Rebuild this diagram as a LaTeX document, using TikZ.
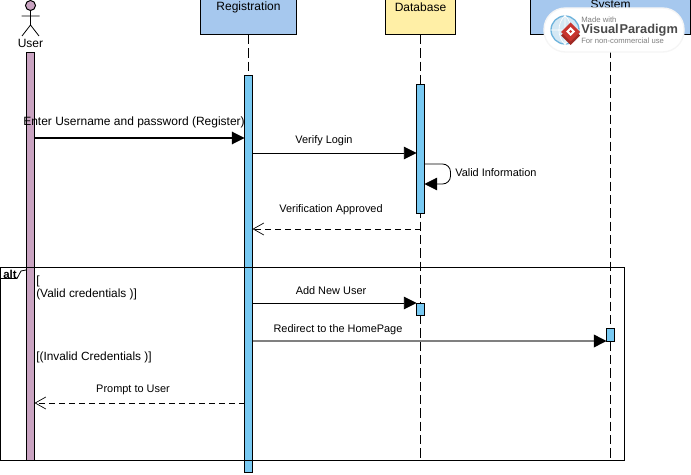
\documentclass[tikz,border=0pt]{standalone}
\usepackage{fontspec}
\setmainfont{Liberation Sans}
\usetikzlibrary{arrows.meta}
\definecolor{actorpink}{HTML}{C9A3C1}
\definecolor{barblue}{HTML}{78C9F2}
\definecolor{headblue}{HTML}{A6C8EE}
\definecolor{headyellow}{HTML}{FFEFA6}
\definecolor{vpblue}{HTML}{6FB4DC}
\definecolor{vpred}{HTML}{C8352F}
\definecolor{vpgrey}{HTML}{4A4A4A}
\begin{document}
\begin{tikzpicture}[x=.75pt,y=-.75pt]
		\tikzset{headbox/.style = {shape=rectangle,draw,line width=.75pt,inner sep=0pt,outer sep=0pt,minimum height=26.25pt}}
		\tikzset{barbox/.style = {shape=rectangle,draw,line width=.75pt,inner sep=0pt,outer sep=0pt,minimum width=6pt}}
		\tikzset{lifeline/.style = {line width=.75pt,dash pattern=on 7pt off 3pt}}
		\tikzset{syncmsg/.style = {line width=.65pt,-{Triangle[length=9.5pt,width=9.5pt,color=black]}}}
		\tikzset{replymsg/.style = {line width=.6pt,dash pattern=on 4.5pt off 3pt,-{Straight Barb[length=8pt,width=9pt,line width=.5pt]}}}
		\tikzset{headtext/.style = {font=\fontsize{9}{10}\selectfont,inner sep=0pt}}
		\tikzset{msgtext/.style = {font=\fontsize{8.2}{9}\selectfont,inner sep=0pt}}
		\tikzset{guardtext/.style = {font=\fontsize{8.9}{10}\selectfont,inner sep=0pt,anchor=west}}
		\useasboundingbox (0,0) rectangle (691,474);
		% head boxes
		\node[headbox,fill=headblue,minimum width=72pt] (regbox) at (248.5,17.5) {};
		\node[headbox,fill=headyellow,minimum width=52.5pt] (dbbox) at (420.5,17.5) {};
		\node[headbox,fill=headblue,minimum width=120pt] (sysbox) at (610.5,17.5) {};
		\node[headtext] (regname) at (248.5,7) {Registration};
		\node[headtext] (dbname) at (420.5,7) {Database};
		\node[headtext] (sysname) at (610.5,6) {System};
		% lifelines
		\coordinate (dbend) at (420.5,460);
		\coordinate (sysend) at (610.5,460);
		\coordinate (regbarTop) at (248.5,76);
		\draw[lifeline] (regbox.south) -- (regbarTop);
		\draw[lifeline] (dbbox.south) -- (dbend);
		\draw[lifeline] (sysbox.south) -- (sysend);
		% actor
		\node[shape=circle,draw,fill=actorpink,line width=.75pt,inner sep=0pt,minimum size=7.5pt] (userhead) at (30.5,5.5) {};
		\coordinate (userhip) at (30.5,25);
		\coordinate (userarml) at (21.5,16);
		\coordinate (userarmr) at (39.5,16);
		\coordinate (userlegl) at (22,36);
		\coordinate (userlegr) at (39,36);
		\draw[line width=.6pt] (userhead) -- (userhip) -- (userlegl) (userhip) -- (userlegr) (userarml) -- (userarmr);
		\node[headtext] (username) at (30.5,43) {User};
		% activation bars
		\node[barbox,fill=actorpink,minimum height=305.25pt] (userbar) at (30.5,256.5) {};
		\node[barbox,fill=barblue,minimum height=297.75pt] (regbar) at (248.5,274) {};
		\node[barbox,fill=barblue,minimum height=96.75pt] (dbbar) at (420.5,149) {};
		\node[barbox,fill=barblue,minimum height=9.5pt] (addbar) at (420.5,309.5) {};
		\node[barbox,fill=barblue,minimum height=9.5pt] (sysbar) at (610.5,335) {};
		% alt frame
		\node[shape=rectangle,draw,line width=.75pt,inner sep=0pt,outer sep=0pt,minimum width=468pt,minimum height=144.75pt] (altframe) at (312.5,364) {};
		\coordinate (alttabl) at (0.5,278.5);
		\coordinate (alttabm) at (17,278.5);
		\coordinate (alttabn) at (21,271);
		\coordinate (alttabr) at (26,270);
		\draw[line width=.6pt] (alttabl) -- (alttabm) -- (alttabn) -- (alttabr);
		\node[font=\fontsize{8.6}{10}\selectfont\bfseries,inner sep=0pt] (altname) at (10,274.5) {alt};
		\node[guardtext] (guardopen) at (36,281) {[};
		\node[guardtext] (guardvalid) at (36,294) {(Valid credentials )]};
		\node[guardtext] (guardinvalid) at (36,357.5) {[(Invalid Credentials )]};
		% messages
		\coordinate (enterY) at (0,138);
		\coordinate (verifyY) at (0,153);
		\coordinate (approvedY) at (0,229);
		\coordinate (addY) at (0,303);
		\coordinate (redirectY) at (0,341);
		\coordinate (promptY) at (0,403);
		\draw[syncmsg,line width=.8pt] (userbar.east |- enterY) -- (regbar.west |- enterY);
		\node[font=\fontsize{9}{10}\selectfont,inner sep=0pt] (lblenter) at (134,122.5) {Enter Username and password (Register)};
		\draw[syncmsg] (regbar.east |- verifyY) -- (dbbar.west |- verifyY);
		\node[msgtext] (lblverify) at (324,141) {Verify Login};
		\coordinate (selfout) at (424.5,164);
		\coordinate (selfin) at (424.5,184);
		\draw[syncmsg,line width=.6pt,rounded corners=6pt] (selfout) -- (450.5,164) -- (450.5,184) -- (selfin);
		\node[msgtext,anchor=west] (lblvalid) at (455,172.5) {Valid Information};
		\draw[replymsg] (dbbar.center |- approvedY) -- (regbar.east |- approvedY);
		\node[msgtext] (lblapproved) at (331,209.5) {Verification Approved};
		\draw[syncmsg] (regbar.east |- addY) -- (addbar.west |- addY);
		\node[msgtext] (lbladd) at (331,290.5) {Add New User};
		\draw[syncmsg,draw=black!50,line width=1.1pt] (regbar.east |- redirectY) -- (sysbar.west |- redirectY);
		\node[msgtext] (lblredirect) at (338,329.5) {Redirect to the HomePage};
		\draw[replymsg] (regbar.west |- promptY) -- (userbar.east |- promptY);
		\node[msgtext] (lblprompt) at (133,389.5) {Prompt to User};
		% watermark
		\node[shape=rectangle,rounded corners=16pt,draw=black!4,line width=1pt,fill=white,minimum width=105pt,minimum height=33pt,inner sep=0pt] (vpbadge) at (614,30) {};
		\node[shape=circle,draw=vpblue,fill=vpblue!30,line width=1pt,inner sep=0pt,minimum size=21pt] (vpglobe) at (565,30) {};
		\draw[white,line width=.5pt] (vpglobe.west) -- (vpglobe.east) (vpglobe.north) -- (vpglobe.south)
			(vpglobe.north) to[bend right=45] (vpglobe.south) (vpglobe.north) to[bend left=45] (vpglobe.south);
		\fill[vpred!80!black] (570.5,26) -- (580,35.5) -- (570.5,45) -- (561,35.5) -- cycle;
		\fill[vpred] (570.5,22.5) -- (580,32) -- (570.5,41.5) -- (561,32) -- cycle;
		\fill[white] (570.5,27) -- (575,31.5) -- (570.5,36) -- (566,31.5) -- cycle;
		\fill[vpred] (570.5,30) -- (572,31.5) -- (570.5,33) -- (569,31.5) -- cycle;
		\node[font=\fontsize{5.8}{6}\selectfont,text=black!50,inner sep=0pt,anchor=west] (vpmade) at (581,19.5) {Made with};
		\node[font=\fontsize{9.6}{12}\selectfont\bfseries,text=vpgrey,inner sep=0pt,anchor=west] (vpname) at (581,30) {Visual\hspace{.6pt}Paradigm};
		\node[font=\fontsize{5.75}{6}\selectfont,text=black!50,inner sep=0pt,anchor=west] (vpuse) at (581,41) {For non-commercial use};
	\end{tikzpicture}
\end{document}
